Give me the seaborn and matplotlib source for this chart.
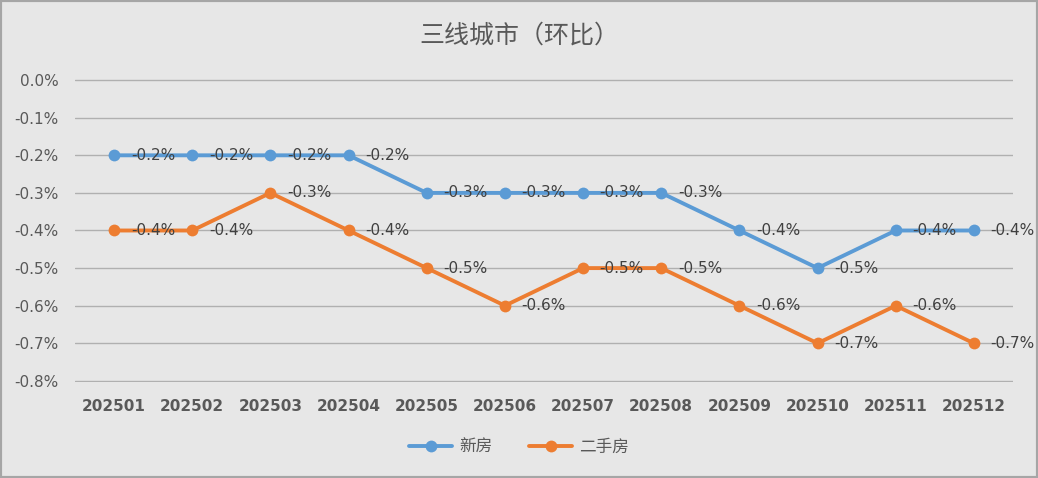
import matplotlib
matplotlib.use("Agg")
import matplotlib.pyplot as plt
import seaborn as sns
import pandas as pd
from matplotlib.patches import Rectangle
from matplotlib.ticker import FuncFormatter

months = ["202501", "202502", "202503", "202504", "202505", "202506",
          "202507", "202508", "202509", "202510", "202511", "202512"]
new_home = [-0.2, -0.2, -0.2, -0.2, -0.3, -0.3, -0.3, -0.3, -0.4, -0.5, -0.4, -0.4]
resale_home = [-0.4, -0.4, -0.3, -0.4, -0.5, -0.6, -0.5, -0.5, -0.6, -0.7, -0.6, -0.7]
series_names = ["新房", "二手房"]
colors = ["#5B9BD5", "#ED7D31"]

sns.set_theme(style="white")
plt.rcParams['font.family'] = ['Noto Sans CJK SC', 'DejaVu Sans']

df = pd.DataFrame({
    "idx": list(range(len(months))) * 2,
    "value": new_home + resale_home,
    "series": [series_names[0]] * len(months) + [series_names[1]] * len(months),
})

bg = "#E7E7E7"
fig = plt.figure(figsize=(10.38, 4.78), dpi=100, facecolor=bg)
ax = fig.add_axes([75 / 1038, 1 - 382 / 478, (1013 - 75) / 1038, (382 - 79) / 478])
ax.set_facecolor(bg)

sns.lineplot(data=df, x="idx", y="value", hue="series", hue_order=series_names,
             palette=colors, marker="o", markersize=8.5, markeredgewidth=0,
             linewidth=2.8, ax=ax, legend=True)

txtc = "#404040"
for vals in (new_home, resale_home):
    for i, v in enumerate(vals):
        ax.annotate(f"{v:.1f}%", (i, v), xytext=(12, 0), textcoords="offset points",
                    ha="left", va="center", fontsize=11, color=txtc,
                    family=['DejaVu Sans'])

ax.set_xlim(-0.5, len(months) - 0.5)
ax.set_ylim(-0.803, 0.003)
ax.set_yticks([0.0, -0.1, -0.2, -0.3, -0.4, -0.5, -0.6, -0.7, -0.8])
ax.yaxis.set_major_formatter(FuncFormatter(lambda v, p: f"{v:.1f}%" if abs(v) > 1e-9 else "0.0%"))
ax.set_xticks(range(len(months)))
ax.set_xticklabels(months, fontweight="bold")
ax.tick_params(axis="x", length=0, pad=12, labelsize=11, labelcolor="#595959")
ax.tick_params(axis="y", length=0, pad=12, labelsize=11, labelcolor="#595959")
for lab in ax.get_yticklabels() + ax.get_xticklabels():
    lab.set_family(['DejaVu Sans'])
ax.grid(axis="y", color="#B0B0B0", linewidth=1)
ax.set_axisbelow(True)
for s in ax.spines.values():
    s.set_visible(False)
ax.set_xlabel("")
ax.set_ylabel("")

fig.text(0.5, 1 - 36 / 478, "三线城市（环比）", ha="center", va="center",
         fontsize=18, color="#595959", fontweight="medium")

handles, labels = ax.get_legend_handles_labels()
ax.legend(handles, labels, loc="center", ncol=2, frameon=False, fontsize=12,
          labelcolor="#595959", handlelength=2.6, handletextpad=0.4,
          columnspacing=2.2,
          bbox_to_anchor=(0.5, 1 - 447 / 478), bbox_transform=fig.transFigure)

fig.patches.append(Rectangle((0, 0), 1, 1, transform=fig.transFigure, fill=False,
                             edgecolor="#A6A6A6", linewidth=3))

fig.savefig("out.png", dpi=100, facecolor=bg)
